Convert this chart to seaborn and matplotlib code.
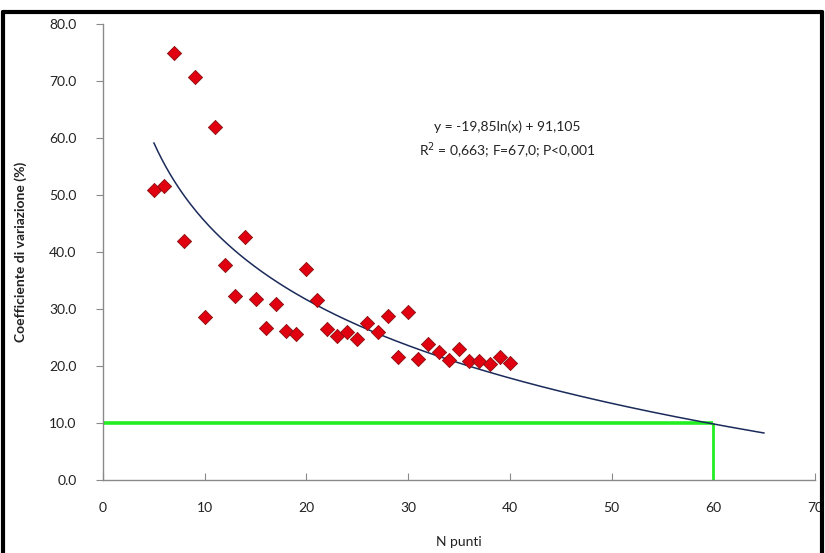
import numpy as np
import pandas as pd
import matplotlib
matplotlib.use("Agg")
import matplotlib.pyplot as plt
from matplotlib.lines import Line2D
import seaborn as sns

# ---- data ----
n_punti = [5, 6, 7, 8, 9, 10, 11, 12, 13, 14, 15, 16, 17, 18, 19, 20, 21, 22,
           23, 24, 25, 26, 27, 28, 29, 30, 31, 32, 33, 34, 35, 36, 37, 38, 39, 40]
coeff_var = [50.9, 51.5, 75.0, 42.0, 70.7, 28.6, 61.9, 37.8, 32.3, 42.6, 31.7, 26.6,
             30.8, 26.2, 25.6, 37.1, 31.5, 26.5, 25.3, 26.0, 24.7, 27.5, 26.0, 28.7,
             21.6, 29.5, 21.3, 23.8, 22.5, 21.1, 22.9, 20.9, 20.8, 20.3, 21.6, 20.6]

# trend line coefficients as printed on the chart
trend_slope = -19.85
trend_intercept = 91.105
trend_range = [5, 65]

# threshold guide lines
threshold_y = 10.0
threshold_x = 60

x_ticks = [0, 10, 20, 30, 40, 50, 60, 70]
y_ticks = [0, 10, 20, 30, 40, 50, 60, 70, 80]

eq_text = "y = -19,85ln(x) + 91,105"
stat_text = "R$^2$ = 0,663; F=67,0; P<0,001"

# ---- drawing ----
sns.set_style("white")
plt.rcParams['font.family'] = ['Lato', 'DejaVu Sans']

fig = plt.figure(figsize=(8.25, 5.53), dpi=100)
ax = fig.add_axes([103 / 825, (553 - 480) / 553, (815 - 103) / 825, (480 - 24) / 553])

df = pd.DataFrame({"N punti": n_punti, "CV": coeff_var})

# trend
tx = np.linspace(trend_range[0], trend_range[1], 300)
ty = trend_slope * np.log(tx) + trend_intercept
sns.lineplot(x=tx, y=ty, ax=ax, color="#1a2a5a", linewidth=1.1, zorder=3)

# green guides
ax.plot([0, threshold_x], [threshold_y, threshold_y], color="#22ee22", linewidth=2.6,
        zorder=2, solid_capstyle="butt")
ax.plot([threshold_x, threshold_x], [0, threshold_y], color="#22ee22", linewidth=2.0,
        zorder=2, solid_capstyle="butt")

# points
sns.scatterplot(data=df, x="N punti", y="CV", ax=ax, marker="D", s=52,
                color="#e00010", edgecolor="#8a1010", linewidth=0.6, zorder=4)

ax.set_xlim(0, 70)
ax.set_ylim(0, 80)
ax.set_xticks(x_ticks)
ax.set_yticks(y_ticks)
ax.set_xticklabels([str(v) for v in x_ticks])
ax.set_yticklabels([f"{v:.1f}" for v in y_ticks])

for s in ["top", "right"]:
    ax.spines[s].set_visible(False)
for s in ["left", "bottom"]:
    ax.spines[s].set_color("#8a8a8a")
    ax.spines[s].set_linewidth(1.0)

ax.tick_params(axis="y", direction="out", length=5, color="#8a8a8a", labelsize=10,
               labelcolor="#222222", pad=14, left=True)
ax.tick_params(axis="x", direction="in", length=5, color="#8a8a8a", labelsize=10,
               labelcolor="#222222", pad=16, bottom=True)

ax.set_xlabel("N punti", fontsize=10, color="#222222", labelpad=16)
ax.set_ylabel("Coefficiente di variazione (%)", fontsize=10, fontweight="bold",
              color="#222222", labelpad=16)

ax.text(39.7, 61.9, eq_text, ha="center", va="center", fontsize=10, color="#222222")
ax.text(39.7, 57.8, stat_text, ha="center", va="center", fontsize=10, color="#222222")

# outer frame
fw = 3.0
fig.add_artist(Line2D([3 / 825, 822 / 825], [1 - 12 / 553, 1 - 12 / 553],
                      transform=fig.transFigure, color="black", linewidth=fw))
fig.add_artist(Line2D([3 / 825, 3 / 825], [1 - 12 / 553, -0.05],
                      transform=fig.transFigure, color="black", linewidth=fw))
fig.add_artist(Line2D([822 / 825, 822 / 825], [1 - 12 / 553, -0.05],
                      transform=fig.transFigure, color="black", linewidth=fw))

fig.savefig("out.png", dpi=100, facecolor="white")
